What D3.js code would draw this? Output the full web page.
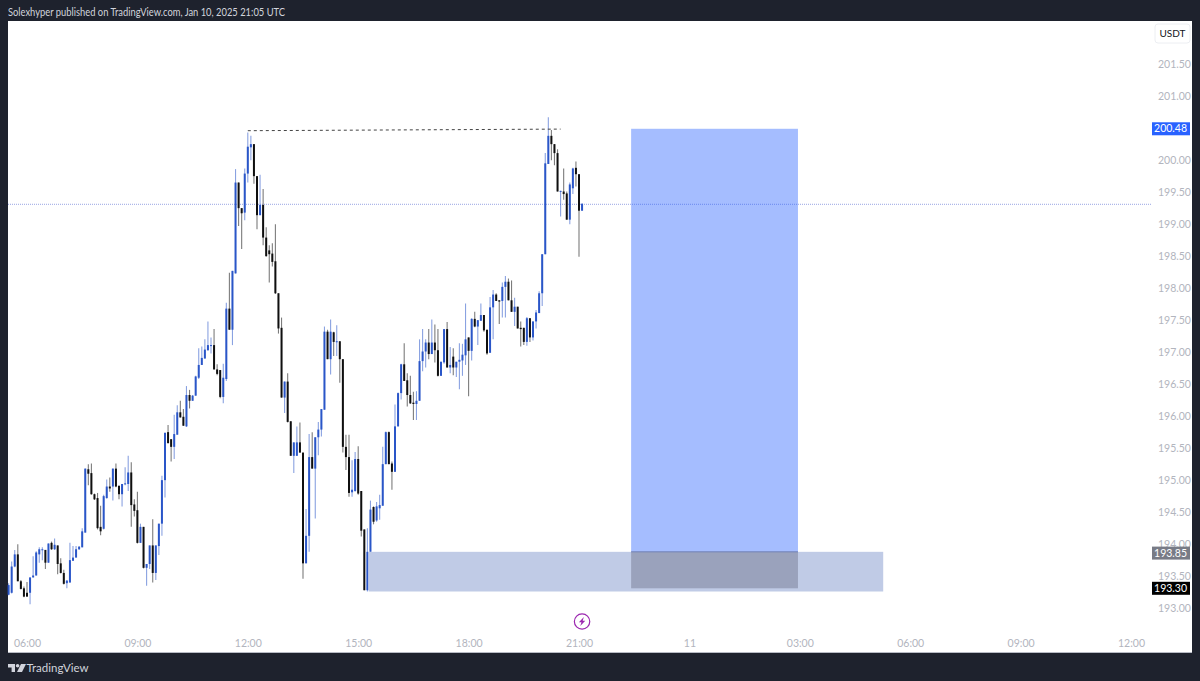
<!DOCTYPE html>
<html>
<head>
<meta charset="utf-8">
<script src="https://cdn.jsdelivr.net/npm/d3@7"></script>
<style>
    body { margin: 0; background: #1e222d; }
    svg { display: block; }
    text { font-family: Lato, sans-serif; }
</style>
</head>
<body>
<svg id="chart" width="1200" height="681"></svg>
<script>
// 5 minute candles, first one at 05:30 UTC
const firstCandle = Date.UTC(2025, 0, 10, 5, 30);
const candleMs = 5 * 60 * 1000;

const opens = [
    193.20,193.23,193.64,193.83,193.41,193.30,193.23,193.23,193.47,193.50,
    193.83,193.90,193.90,193.70,194.01,193.91,193.97,193.69,193.54,193.38,
    193.39,193.73,193.78,193.91,193.94,194.17,195.16,195.10,194.77,194.71,
    194.26,194.23,194.71,194.89,194.89,195.17,194.90,194.77,194.93,194.93,
    195.11,194.61,194.52,194.01,194.26,193.62,193.68,193.97,193.54,193.96,
    194.31,194.99,195.74,195.63,195.51,195.70,196.05,195.98,195.83,196.32,
    196.23,196.31,196.59,196.79,196.89,197.02,197.09,197.10,196.72,196.71,
    196.29,196.57,197.67,197.34,198.22,199.64,199.24,199.17,199.78,200.19,
    200.24,199.74,199.13,199.29,198.78,198.58,198.53,198.41,197.91,197.37,
    196.28,196.53,195.91,195.37,195.37,195.58,195.42,193.69,194.12,195.35,
    195.17,195.66,195.78,196.09,197.31,196.88,197.30,197.15,197.16,196.88,
    195.51,195.35,194.80,194.82,195.32,194.82,194.22,193.27,193.87,194.57,
    194.36,194.55,194.59,195.24,195.74,195.25,195.12,195.83,196.35,196.80,
    196.55,196.32,196.20,196.18,196.23,196.85,197.00,197.14,196.96,197.14,
    197.02,196.62,196.83,197.35,196.75,196.92,196.75,196.84,196.86,196.94,
    197.22,197.01,197.51,197.39,197.48,197.57,197.34,196.98,197.69,197.89,
    197.80,197.79,198.01,198.09,197.80,197.62,197.70,197.37,197.37,197.15,
    197.52,197.22,197.47,197.60,197.91,198.52,199.93,200.37,200.24,200.10,
    199.50,199.50,199.47,199.06,199.55,199.87,199.77,199.20
];
const highs = [
    193.38,193.72,193.90,193.99,193.43,193.33,193.40,193.47,193.80,193.88,
    193.94,193.94,193.90,194.00,194.03,194.08,193.97,193.77,193.59,193.43,
    194.01,193.96,193.96,193.96,194.24,195.17,195.24,195.25,194.78,194.79,
    194.59,194.76,195.00,195.03,195.17,195.25,194.91,194.93,195.19,195.37,
    195.27,194.69,194.81,194.31,194.26,193.68,193.97,194.38,193.97,194.31,
    195.06,195.73,195.85,195.63,196.01,196.16,196.23,196.10,196.46,196.40,
    196.32,196.62,197.05,197.08,197.19,197.47,197.22,197.35,196.80,196.71,
    196.81,197.76,198.23,198.26,199.85,199.64,199.24,199.86,200.42,200.37,
    200.24,199.74,199.76,199.54,198.94,198.66,198.69,198.99,197.91,197.53,
    196.53,196.66,195.91,195.58,195.83,195.89,195.42,194.54,195.71,195.74,
    195.66,195.90,196.10,197.39,197.34,197.50,197.31,197.41,197.16,196.88,
    195.70,195.70,195.30,195.43,195.52,194.82,194.22,194.24,194.67,194.58,
    194.65,194.76,195.51,195.75,195.75,195.28,196.17,196.36,196.81,197.13,
    196.66,196.62,196.37,196.38,197.19,197.35,197.19,197.35,197.50,197.42,
    197.35,196.84,197.35,197.46,197.07,197.05,196.84,197.13,197.12,197.75,
    197.22,197.52,197.62,197.49,197.75,197.57,197.34,197.85,197.96,197.91,
    197.80,198.08,198.18,198.14,198.11,197.84,197.70,197.47,197.37,197.54,
    197.52,197.47,197.65,197.94,198.52,200.10,200.66,200.46,200.24,200.16,
    199.51,199.86,199.50,199.64,199.87,199.97,199.77,199.31
];
const lows = [
    193.19,193.22,193.63,193.41,193.28,193.16,193.17,193.05,193.47,193.50,
    193.70,193.74,193.60,193.70,193.90,193.90,193.52,193.53,193.36,193.30,
    193.39,193.73,193.78,193.90,193.94,194.17,194.91,194.76,194.68,194.22,
    194.13,194.22,194.70,194.81,194.67,194.88,194.69,194.58,194.91,194.82,
    194.26,194.42,194.00,194.01,193.61,193.34,193.60,193.39,193.43,193.82,
    194.12,194.72,195.56,195.28,195.32,195.70,195.97,195.84,195.82,196.11,
    196.23,196.31,196.57,196.79,196.89,197.01,196.97,196.72,196.63,196.27,
    196.19,196.54,197.34,197.10,198.22,198.96,198.60,199.05,199.64,199.99,
    199.62,198.91,199.13,198.66,198.48,198.08,198.33,197.90,197.28,196.28,
    196.04,195.89,195.37,195.10,195.37,195.42,193.45,193.69,193.87,195.17,
    194.39,195.38,195.67,196.09,196.88,196.64,196.93,196.93,196.51,195.42,
    195.15,194.73,194.73,194.81,194.76,194.11,193.27,193.25,193.69,194.30,
    194.34,194.37,194.59,195.24,195.24,194.84,195.12,195.83,196.25,196.54,
    196.14,196.18,195.93,195.93,196.23,196.69,196.75,196.88,196.96,196.83,
    196.61,196.62,196.81,196.75,196.66,196.63,196.60,196.41,196.62,196.79,
    196.30,196.86,197.38,197.10,197.48,197.31,196.95,196.98,197.19,197.79,
    197.43,197.53,197.53,197.80,197.62,197.40,197.36,197.08,197.10,197.09,
    197.15,197.17,197.36,197.60,197.71,198.52,199.93,199.99,199.91,199.50,
    199.11,199.37,199.06,198.99,199.46,199.58,198.48,199.20
];
const closes = [
    193.35,193.64,193.83,193.41,193.29,193.17,193.17,193.47,193.50,193.86,
    193.91,193.91,193.70,194.00,193.91,193.98,193.68,193.54,193.37,193.42,
    193.74,193.78,193.91,193.95,194.19,195.17,195.09,194.77,194.69,194.24,
    194.19,194.74,194.89,194.86,195.17,194.89,194.77,194.93,194.94,195.11,
    194.60,194.51,194.01,194.26,193.62,193.68,193.97,193.54,193.97,194.31,
    194.99,195.73,195.57,195.51,195.71,196.05,195.97,195.84,196.32,196.23,
    196.31,196.61,196.79,196.90,197.03,197.10,197.10,196.72,196.65,196.29,
    196.59,197.67,197.34,198.26,199.64,199.24,199.16,199.78,200.20,200.24,
    199.74,199.13,199.29,198.78,198.49,198.52,198.40,197.91,197.36,196.28,
    196.53,195.90,195.37,195.58,195.58,195.42,193.69,194.12,195.35,195.17,
    195.66,195.78,196.10,197.31,196.88,197.31,197.15,197.16,196.88,195.51,
    195.35,194.79,194.84,195.32,194.78,194.20,193.27,193.87,194.53,194.34,
    194.58,194.60,195.24,195.74,195.24,195.12,195.83,196.35,196.80,196.54,
    196.32,196.19,196.18,196.23,196.85,197.00,197.14,196.96,197.14,197.02,
    196.62,196.84,197.35,196.75,196.79,196.75,196.84,196.87,196.95,197.19,
    197.01,197.51,197.39,197.49,197.57,197.33,196.97,197.69,197.89,197.79,
    197.78,198.01,198.09,197.80,197.62,197.70,197.36,197.35,197.15,197.52,
    197.22,197.47,197.61,197.91,198.52,199.94,200.37,200.24,200.10,199.50,
    199.51,199.46,199.06,199.61,199.86,199.77,199.20,199.31
];

// 200.50 sits behind the blue price label in the original, so it is left out
const priceTicks = [193, 193.5, 194, 194.5, 195, 195.5, 196, 196.5, 197, 197.5, 198, 198.5, 199, 199.5, 200, 201, 201.5];
const timeTicks = [
    Date.UTC(2025, 0, 10, 6), Date.UTC(2025, 0, 10, 9), Date.UTC(2025, 0, 10, 12), Date.UTC(2025, 0, 10, 15),
    Date.UTC(2025, 0, 10, 18), Date.UTC(2025, 0, 10, 21), Date.UTC(2025, 0, 11, 0), Date.UTC(2025, 0, 11, 3),
    Date.UTC(2025, 0, 11, 6), Date.UTC(2025, 0, 11, 9), Date.UTC(2025, 0, 11, 12)
];
const timeLabels = ['06:00', '09:00', '12:00', '15:00', '18:00', '21:00', '11', '03:00', '06:00', '09:00', '12:00'];

const lastClose = 199.30;
const targetPrice = 200.48;
const stopPrice = 193.30;
const entryPrice = 193.85;
const zoneTop = 193.87;
const zoneBottom = 193.25;

const blueBoxStart = Date.UTC(2025, 0, 10, 22, 25);
const blueBoxEnd = Date.UTC(2025, 0, 11, 2, 57);
const zoneStart = Date.UTC(2025, 0, 10, 15, 17);
const zoneEnd = Date.UTC(2025, 0, 11, 5, 16);

const highLineTimes = [Date.UTC(2025, 0, 10, 12, 0), Date.UTC(2025, 0, 10, 20, 30)];
const highLinePrices = [200.45, 200.475];

const candles = opens.map((o, i) => ({
    t: firstCandle + i * candleMs, o: o, h: highs[i], l: lows[i], c: closes[i]
}));

const upColor = '#2a56c8';
const downColor = '#0f0f0f';

const svg = d3.select('#chart');

const x = d3.scaleUtc()
    .domain([timeTicks[0], timeTicks[timeTicks.length - 1]])
    .range([27, 1131]);

const y = d3.scaleLinear()
    .domain([200, 193])
    .range([159.5, 607.5]);

// frame
svg.append('rect').attr('width', 1200).attr('height', 681).attr('fill', '#1e222d');
svg.append('rect')
    .attr('x', 8).attr('y', 21)
    .attr('width', 1184).attr('height', 632)
    .attr('fill', '#fff');
svg.append('line')
    .attr('x1', 8).attr('x2', 1192)
    .attr('y1', 652.5).attr('y2', 652.5)
    .attr('stroke', '#b8bbc4');

svg.append('text')
    .attr('x', 8).attr('y', 16)
    .attr('fill', '#d1d4dc')
    .style('font-size', '10.5px')
    .attr('textLength', 277)
    .attr('lengthAdjust', 'spacingAndGlyphs')
    .text('Solexhyper published on TradingView.com, Jan 10, 2025 21:05 UTC');

// last price line
svg.append('line')
    .attr('x1', 8).attr('x2', 1151)
    .attr('y1', y(lastClose)).attr('y2', y(lastClose))
    .attr('stroke', '#6f7fd8')
    .attr('stroke-opacity', 0.7)
    .attr('stroke-dasharray', '1 1');

// candles
const candleG = svg.selectAll('.candle')
    .data(candles)
    .join('g')
    .attr('class', 'candle');

candleG.append('line')
    .attr('x1', d => x(d.t)).attr('x2', d => x(d.t))
    .attr('y1', d => y(d.h)).attr('y2', d => y(d.l))
    .attr('stroke', d => d.c >= d.o ? '#2a56c8' : '#111')
    .attr('stroke-opacity', 0.55)
    .attr('stroke-width', 1.1);

candleG.append('rect')
    .attr('x', d => x(d.t) - 1)
    .attr('width', 2)
    .attr('y', d => y(Math.max(d.o, d.c)))
    .attr('height', d => Math.max(1, Math.abs(y(d.o) - y(d.c))))
    .attr('fill', d => d.c >= d.o ? upColor : downColor);

// blue target box
svg.append('rect')
    .attr('x', x(blueBoxStart)).attr('width', x(blueBoxEnd) - x(blueBoxStart))
    .attr('y', y(targetPrice)).attr('height', y(stopPrice) - y(targetPrice))
    .attr('fill', '#2962ff').attr('fill-opacity', 0.42);

// entry zone
svg.append('rect')
    .attr('x', x(zoneStart)).attr('width', x(zoneEnd) - x(zoneStart))
    .attr('y', y(zoneTop)).attr('height', y(zoneBottom) - y(zoneTop))
    .attr('fill', '#c0cbe6');

// the part where both boxes overlap
svg.append('rect')
    .attr('x', x(blueBoxStart)).attr('width', x(blueBoxEnd) - x(blueBoxStart))
    .attr('y', y(zoneTop)).attr('height', y(stopPrice) - y(zoneTop))
    .attr('fill', '#9aa2bc');
svg.append('line')
    .attr('x1', x(blueBoxStart)).attr('x2', x(blueBoxEnd))
    .attr('y1', y(zoneTop)).attr('y2', y(zoneTop))
    .attr('stroke', '#6f80b8');

// dashed line over the two highs
svg.append('line')
    .attr('x1', x(highLineTimes[0])).attr('x2', x(highLineTimes[1]))
    .attr('y1', y(highLinePrices[0])).attr('y2', y(highLinePrices[1]))
    .attr('stroke', '#444')
    .attr('stroke-dasharray', '3 3');

// axes
const yAxis = d3.axisRight(y)
    .tickValues(priceTicks)
    .tickSize(0)
    .tickPadding(0)
    .tickFormat(d3.format('.2f'));

svg.append('g')
    .attr('class', 'y-axis')
    .attr('transform', 'translate(1158,0.5)')
    .call(yAxis)
    .call(g => g.select('.domain').remove())
    .call(g => g.selectAll('text')
        .attr('fill', '#b2b5be')
        .style('font-size', '10.5px')
        .style('font-family', 'Lato, sans-serif'));

const xAxis = d3.axisBottom(x)
    .tickValues(timeTicks)
    .tickSize(0)
    .tickPadding(0)
    .tickFormat((d, i) => timeLabels[i]);

svg.append('g')
    .attr('class', 'x-axis')
    .attr('transform', 'translate(0,639.5)')
    .call(xAxis)
    .call(g => g.select('.domain').remove())
    .call(g => g.selectAll('text')
        .attr('fill', '#b2b5be')
        .style('font-size', '10.5px')
        .style('font-family', 'Lato, sans-serif'));

// price labels
const priceLabels = [
    {value: targetPrice, fill: '#2962ff'},
    {value: entryPrice, fill: '#787b86'},
    {value: stopPrice, fill: '#000'}
];
const labelG = svg.selectAll('.price-label')
    .data(priceLabels)
    .join('g')
    .attr('class', 'price-label')
    .attr('transform', d => `translate(1152,${y(d.value)})`);
labelG.append('rect')
    .attr('y', -6.5).attr('width', 38).attr('height', 13)
    .attr('fill', d => d.fill);
labelG.append('text')
    .attr('x', 35).attr('dy', '.35em')
    .attr('text-anchor', 'end')
    .attr('fill', '#fff')
    .style('font-size', '10.5px')
    .text(d => d.value.toFixed(2));

// currency button
svg.append('rect')
    .attr('x', 1155).attr('y', 24)
    .attr('width', 35).attr('height', 19)
    .attr('rx', 3)
    .attr('fill', '#fff')
    .attr('stroke', '#eceef2');
svg.append('text')
    .attr('x', 1172.5).attr('y', 37)
    .attr('text-anchor', 'middle')
    .attr('fill', '#131722')
    .style('font-size', '10px')
    .text('USDT');

// lightning marker under the last candle
const marker = svg.append('g')
    .attr('transform', `translate(${x(firstCandle + 187 * candleMs)},621.5)`);
marker.append('circle')
    .attr('r', 7.7)
    .attr('fill', '#fff')
    .attr('stroke', '#9c27b0')
    .attr('stroke-width', 1.2);
marker.append('path')
    .attr('d', 'M1.8 -4.4 L-3.2 0.8 L-0.6 0.8 L-1.8 4.4 L3.2 -0.8 L0.6 -0.8 Z')
    .attr('fill', '#9c27b0');

// logo
svg.append('path')
    .attr('d', 'M8 664 h7 v8 h-3.4 v-4.6 h-3.6 Z M21 664 h5 l-4 8 h-5 Z')
    .attr('fill', '#d1d4dc');
svg.append('circle')
    .attr('cx', 17.6).attr('cy', 665.8).attr('r', 1.8)
    .attr('fill', '#d1d4dc');
svg.append('text')
    .attr('x', 26.5).attr('y', 672)
    .attr('fill', '#d1d4dc')
    .style('font-size', '11.5px')
    .text('TradingView');
</script>
</body>
</html>
